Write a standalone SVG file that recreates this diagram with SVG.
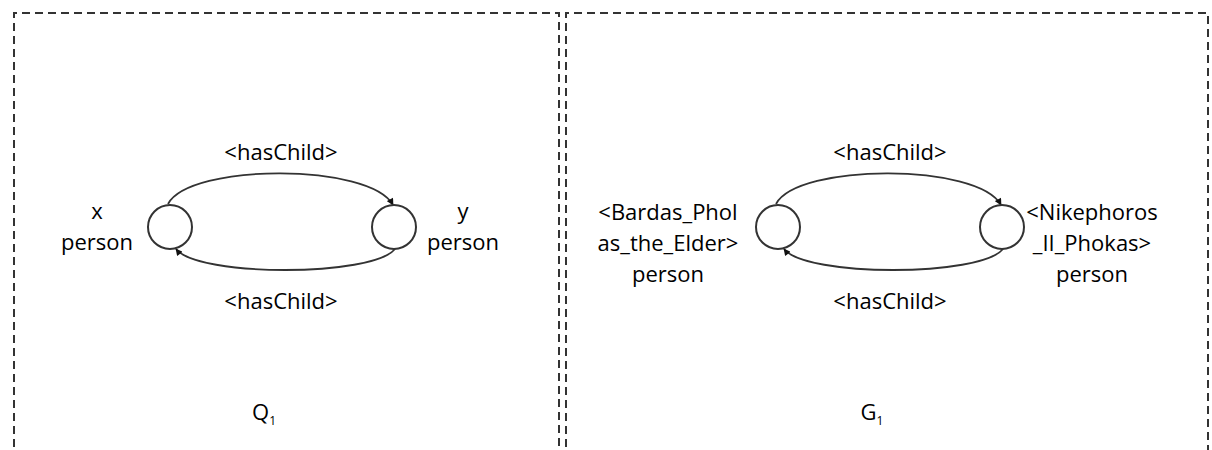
<svg xmlns="http://www.w3.org/2000/svg" width="1212" height="450" viewBox="0 0 1212 450">
<style>
.frame{fill:none;stroke:#333;stroke-width:2;stroke-dasharray:8 5}
.node{fill:#fff;stroke:#333;stroke-width:2}
.edge{fill:none;stroke:#333;stroke-width:1.8}
text{font-family:"Open Sans","Noto Sans","Liberation Sans",sans-serif;font-size:22px;fill:#000;text-anchor:middle}
.sub{font-size:12px}
</style>
<defs>
<marker id="arr" viewBox="0 0 10 10" refX="9" refY="5" markerWidth="9" markerHeight="7" orient="auto" markerUnits="userSpaceOnUse">
<path d="M0,0 L10,5 L0,10 z" fill="#111"/>
</marker>
</defs>
<g id="frames">
<path class="frame" d="M14,460 V13 H559 V460"/>
<path class="frame" d="M566,460 V13 H1208 V460"/>
</g>
<g id="connectors">
<path class="edge" d="M168,204 C190,163 370,163 393,205" marker-end="url(#arr)"/>
<path class="edge" d="M395,249 C372,277 198,277 176,249" marker-end="url(#arr)"/>
<path class="edge" d="M776,204 C798,163 978,163 1001,205" marker-end="url(#arr)"/>
<path class="edge" d="M1003,249 C980,277 806,277 784,249" marker-end="url(#arr)"/>
<text x="281" y="160">&lt;hasChild&gt;</text>
<text x="281" y="309">&lt;hasChild&gt;</text>
<text x="890" y="160">&lt;hasChild&gt;</text>
<text x="890" y="309">&lt;hasChild&gt;</text>
</g>
<g id="node-x">
<circle class="node" cx="170" cy="227" r="22"/>
<text x="97" y="219">x</text>
<text x="97" y="250">person</text>
</g>
<g id="node-y">
<circle class="node" cx="394" cy="227" r="22"/>
<text x="463" y="219">y</text>
<text x="463" y="250">person</text>
</g>
<g id="node-bardas">
<circle class="node" cx="778" cy="227" r="22"/>
<text x="668" y="220">&lt;Bardas_Phol</text>
<text x="668" y="251">as_the_Elder&gt;</text>
<text x="668" y="282">person</text>
</g>
<g id="node-nikephoros">
<circle class="node" cx="1002" cy="227" r="22"/>
<text x="1092" y="220">&lt;Nikephoros</text>
<text x="1092" y="251">_II_Phokas&gt;</text>
<text x="1092" y="282">person</text>
</g>
<g id="labels">
<text x="264" y="420">Q<tspan class="sub" dy="5">1</tspan></text>
<text x="872" y="420">G<tspan class="sub" dy="5">1</tspan></text>
</g>
</svg>
